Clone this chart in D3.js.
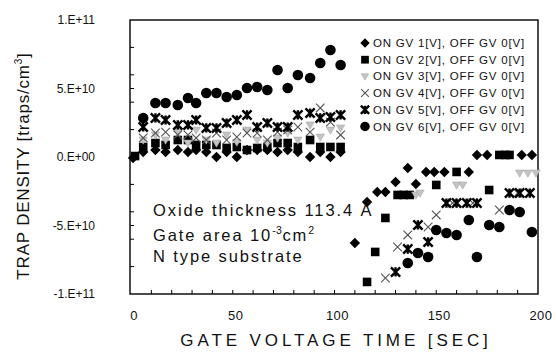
<!DOCTYPE html>
<html>
<head>
<meta charset="utf-8">
<script src="https://cdn.jsdelivr.net/npm/d3@7"></script>
<style>
  body { margin: 0; background: #fff; }
  text { font-family: "Liberation Sans", Arial, sans-serif; fill: #111; }
</style>
</head>
<body>
<svg id="chart" width="557" height="354"></svg>
<script>
// values are in units of 1e10 traps/cm3, time in seconds
const xTicks = [0, 50, 100, 150, 200];
const yTicks = [10, 5, 0, -5, -10];
const yTickLabels = ["1.E+11", "5.E+10", "0.E+00", "-5.E+10", "-1.E+11"];
const seriesNames = [
  "ON GV 1[V], OFF GV 0[V]",
  "ON GV 2[V], OFF GV 0[V]",
  "ON GV 3[V], OFF GV 0[V]",
  "ON GV 4[V], OFF GV 0[V]",
  "ON GV 5[V], OFF GV 0[V]",
  "ON GV 6[V], OFF GV 0[V]"
];
const noteLines = ["Oxide thickness 113.4 Å", "Gate area 10", "N type substrate"];

const gv1 = [
  [1, -0.07], [6, 0.36], [12, 0.51], [17, 0.36], [23, 0.51], [28, 0.36], [32, 0.51], [37, 0.36],
  [42, 0.0], [47, 0.36], [52, 0.0], [57, 0.51], [62, 0.51], [67, 0.51], [72, 0.36], [77, 0.51],
  [82, 0.36], [88, 0.0], [93, 0.36], [98, 0.0], [103, 0.36],
  [110, -6.28], [116, -3.28], [121, -2.55], [125, -2.55], [130, -1.82], [136, -0.8], [140, -1.97],
  [145, -1.09], [149, -1.09], [154, -1.09], [166, -1.09], [170, 0.15], [175, 0.15], [192, 0.15], [197, 0.15]
];
const gv2 = [
  [2, 0.07], [6, 0.73], [12, 1.02], [17, 0.88], [23, 1.24], [28, 1.24], [32, 0.88], [37, 0.88],
  [42, 0.88], [47, 0.66], [52, 0.73], [57, 0.51], [62, 0.66], [67, 0.73], [72, 1.02], [77, 1.02],
  [82, 0.73], [88, 1.24], [93, 0.73], [98, 0.73], [103, 0.73],
  [116, -9.12], [120, -6.93], [125, -4.45], [131, -2.77], [134, -2.77], [137, -2.77], [150, -2.04],
  [160, -1.09], [176, -2.41], [181, 0.15], [184, 0.15], [186, 0.15]
];
const gv3 = [
  [6, 1.24], [12, 1.61], [17, 1.24], [23, 1.82], [28, 1.02], [32, 1.97], [37, 1.24], [42, 1.02],
  [47, 1.61], [52, 1.09], [57, 1.97], [62, 1.24], [67, 1.02], [72, 1.39], [77, 1.75], [82, 1.24],
  [88, 2.34], [93, 1.46], [98, 1.97], [103, 2.12],
  [140, -2.77], [142, -2.63], [160, -2.04], [163, -2.04], [191, -1.17], [195, -1.17], [199, -1.17]
];
const gv4 = [
  [6, 1.39], [12, 1.75], [17, 1.82], [23, 1.61], [28, 1.61], [32, 1.39], [37, 1.24], [42, 1.75],
  [47, 1.24], [52, 1.46], [57, 1.75], [62, 1.75], [67, 1.24], [72, 1.82], [77, 1.97], [82, 2.19],
  [88, 1.82], [93, 3.58], [98, 2.55], [103, 1.61],
  [125, -8.83], [131, -6.57], [136, -5.69], [146, -5.11], [150, -4.23], [158, -3.36], [168, -3.36],
  [181, -3.87], [190, -2.63]
];
const gv5 = [
  [6, 2.19], [12, 2.85], [17, 2.7], [23, 2.34], [28, 2.34], [32, 2.7], [37, 2.12], [42, 2.12],
  [47, 2.48], [52, 2.7], [57, 3.07], [62, 2.19], [67, 2.48], [72, 2.19], [77, 2.19], [82, 3.07],
  [88, 3.21], [93, 2.85], [98, 2.92], [103, 3.07],
  [130, -8.39], [136, -6.72], [141, -4.96], [146, -6.2], [155, -3.36], [160, -3.36], [165, -3.36],
  [170, -3.36], [186, -2.63], [191, -2.63], [196, -2.63]
];
const gv6 = [
  [6, 2.85], [12, 3.94], [17, 3.94], [23, 3.8], [28, 4.31], [32, 3.94], [37, 4.67], [42, 4.67],
  [47, 4.38], [52, 4.53], [57, 5.04], [62, 5.11], [67, 4.89], [72, 6.35], [77, 5.04], [82, 5.99],
  [88, 5.77], [93, 6.86], [98, 7.81], [103, 6.72],
  [136, -7.74], [141, -7.01], [146, -7.3], [150, -5.33], [155, -5.55], [160, -5.69], [166, -4.6],
  [170, -7.3], [176, -4.96], [181, -5.11], [186, -3.87], [191, -4.01], [197, -5.47]
];

const box = { left: 130, right: 538, top: 20, bottom: 294 };

const svg = d3.select("#chart");

const x = d3.scaleLinear().domain([0, 200]).range([131, box.right]);
const y = d3.scaleLinear().domain([-10, 10]).range([box.bottom, box.top]);

// custom marker shapes, "size" is the half width in px
const diamond = { draw(ctx, r) { ctx.moveTo(0, -r); ctx.lineTo(r, 0); ctx.lineTo(0, r); ctx.lineTo(-r, 0); ctx.closePath(); } };
const square = { draw(ctx, r) { ctx.rect(-r, -r, 2 * r, 2 * r); } };
const triDown = { draw(ctx, r) { ctx.moveTo(-r, -r * 0.7); ctx.lineTo(r, -r * 0.7); ctx.lineTo(0, r); ctx.closePath(); } };
const cross = { draw(ctx, r) { ctx.moveTo(-r, -r); ctx.lineTo(r, r); ctx.moveTo(r, -r); ctx.lineTo(-r, r); } };
const star = { draw(ctx, r) { ctx.moveTo(-r, -r); ctx.lineTo(r, r); ctx.moveTo(r, -r); ctx.lineTo(-r, r); ctx.moveTo(0, -r); ctx.lineTo(0, r); } };
const dot = { draw(ctx, r) { ctx.arc(0, 0, r, 0, 2 * Math.PI); } };

const series = [
  { data: gv1, type: diamond, r: 5.2, fill: "#000", stroke: "none", sw: 0 },
  { data: gv2, type: square, r: 4.3, fill: "#000", stroke: "none", sw: 0 },
  { data: gv3, type: triDown, r: 4.2, fill: "#c4c4c4", stroke: "#aaa", sw: 0.6 },
  { data: gv4, type: cross, r: 4.3, fill: "none", stroke: "#555", sw: 1.1 },
  { data: gv5, type: star, r: 4.6, fill: "none", stroke: "#000", sw: 2.4 },
  { data: gv6, type: dot, r: 5.3, fill: "#000", stroke: "none", sw: 0 }
];

// frame
svg.append("rect")
  .attr("x", box.left).attr("y", box.top)
  .attr("width", box.right - box.left).attr("height", box.bottom - box.top)
  .attr("fill", "none").attr("stroke", "#000").attr("stroke-width", 1.4);

// inner ticks
const xMinor = d3.range(10, 200, 10);
svg.append("g").selectAll("line").data(xMinor).join("line")
  .attr("x1", d => x(d)).attr("x2", d => x(d))
  .attr("y1", box.bottom).attr("y2", box.bottom - 4)
  .attr("stroke", "#000").attr("stroke-width", 1);
const yMinor = [8, 6, 5, 4, 2, -2, -4, -5, -6, -8];
svg.append("g").selectAll("line").data(yMinor).join("line")
  .attr("x1", box.left).attr("x2", box.left + 4)
  .attr("y1", d => y(d)).attr("y2", d => y(d))
  .attr("stroke", "#000").attr("stroke-width", 1);

// tick labels
svg.append("g").selectAll("text").data(xTicks).join("text")
  .attr("x", d => x(d) + 3).attr("y", 320)
  .attr("text-anchor", "middle").attr("font-size", 13).attr("letter-spacing", 0.5)
  .text(d => d);
svg.append("g").selectAll("text").data(yTicks).join("text")
  .attr("x", 95).attr("y", d => y(d) + 4)
  .attr("text-anchor", "end").attr("font-size", 12)
  .text((d, i) => yTickLabels[i]);

// axis titles
svg.append("text")
  .attr("x", 336).attr("y", 346)
  .attr("text-anchor", "middle").attr("font-size", 17).attr("letter-spacing", 3.9)
  .text("GATE VOLTAGE TIME [SEC]");
const yTitle = svg.append("text")
  .attr("transform", "translate(29,166) rotate(-90)")
  .attr("text-anchor", "middle").attr("font-size", 17).attr("letter-spacing", 0.8);
yTitle.append("tspan").text("TRAP DENSITY [traps/cm");
yTitle.append("tspan").attr("font-size", 10).attr("dy", -7).text("3");
yTitle.append("tspan").attr("dy", 7).text("]");

// marks
const sym = d3.symbol();
series.forEach(s => {
  svg.append("g").selectAll("path").data(s.data).join("path")
    .attr("transform", d => `translate(${x(d[0])},${y(d[1])})`)
    .attr("d", sym.type(s.type).size(s.r)())
    .attr("fill", s.fill).attr("stroke", s.stroke).attr("stroke-width", s.sw);
});

// legend
const legend = svg.append("g");
seriesNames.forEach((name, i) => {
  const s = series[i];
  const yy = 43 + i * 16.7;
  legend.append("path")
    .attr("transform", `translate(365,${yy})`)
    .attr("d", sym.type(s.type).size(s.r * 0.9)())
    .attr("fill", s.fill).attr("stroke", s.stroke).attr("stroke-width", s.sw);
  legend.append("text")
    .attr("x", 373).attr("y", yy + 4)
    .attr("font-size", 11.5).attr("letter-spacing", 0.8)
    .text(name);
});

// note block
const note = svg.append("g").attr("font-size", 16.5).attr("letter-spacing", 1.9);
note.append("text").attr("x", 153).attr("y", 216).text(noteLines[0]);
const g2 = note.append("text").attr("x", 153).attr("y", 241);
g2.append("tspan").text(noteLines[1]);
g2.append("tspan").attr("font-size", 10.5).attr("dy", -7).attr("letter-spacing", 0.5).text("-3");
g2.append("tspan").attr("dy", 7).text("cm");
g2.append("tspan").attr("font-size", 10.5).attr("dy", -7).text("2");
note.append("text").attr("x", 153).attr("y", 262).text(noteLines[2]);
</script>
</body>
</html>
